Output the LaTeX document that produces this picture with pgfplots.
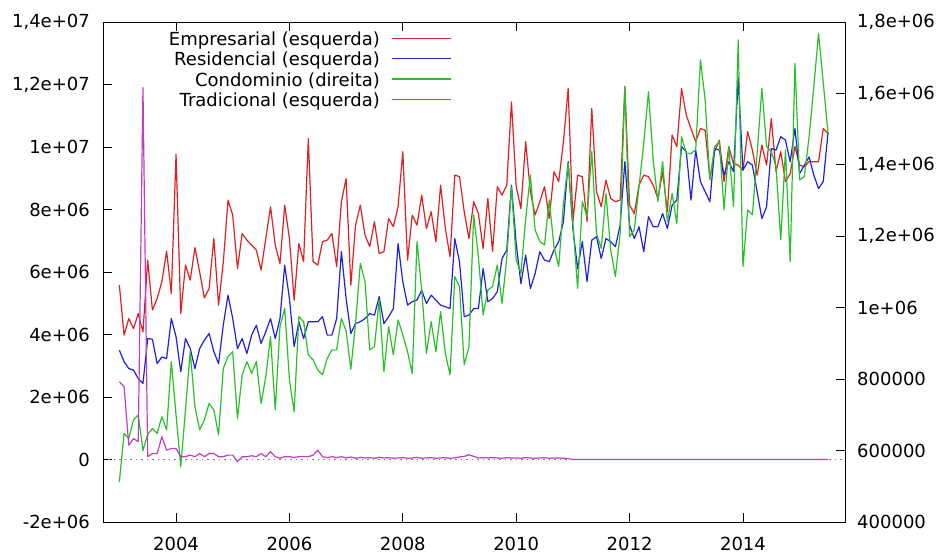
\documentclass[border=0pt]{standalone}
\usepackage{pgfplots}
\pgfplotsset{compat=1.18}
\usepackage{pgfplotstable}
\usepackage{fontspec}
\setmainfont{DejaVu Sans}
\definecolor{cEmp}{RGB}{222,32,32}
\definecolor{cRes}{RGB}{32,32,222}
\definecolor{cCon}{RGB}{40,192,40}
\definecolor{cTra}{RGB}{192,60,192}

% i = month index (0 = Jan 2003); emp,res,tra in millions (left axis); con in thousands (right axis)
\pgfplotstableread{
i emp res con tra
0 5.58 3.50 512 2.49
1 3.98 3.13 648 2.33
2 4.51 2.91 634 0.46
3 4.19 2.86 686 0.67
4 4.67 2.59 700 0.57
5 4.08 2.43 600 11.9
6 6.38 3.87 645 0.09
7 4.78 3.85 662 0.19
8 5.15 3.07 648 0.19
9 5.69 3.28 695 0.73
10 6.67 3.23 658 0.30
11 5.31 4.51 849 0.35
12 9.77 3.93 700 0.35
13 4.67 2.81 555 0.09
14 6.22 3.87 714 0.09
15 5.74 3.55 877 0.14
16 6.78 2.91 723 0.09
17 6.00 3.55 658 0.19
18 5.17 3.82 686 0.09
19 5.47 4.03 732 0.19
20 7.07 3.45 714 0.19
21 4.94 3.07 644 0.09
22 6.30 4.30 830 0.09
23 8.30 5.26 863 0.14
24 7.82 4.51 877 0.14
25 6.11 3.55 690 -0.07
26 7.23 3.87 812 0.09
27 7.02 3.39 849 0.09
28 6.86 3.98 816 0.12
29 6.70 4.30 849 0.09
30 6.06 3.71 732 0.19
31 7.07 4.09 807 0.09
32 8.09 4.51 919 0.25
33 6.86 3.87 714 0.09
34 6.27 4.51 947 0.04
35 8.14 6.22 998 0.09
36 7.07 5.15 798 0.09
37 5.10 3.61 709 0.06
38 6.91 4.41 975 0.09
39 6.33 3.87 961 0.10
40 10.27 4.41 868 0.09
41 6.33 4.41 854 0.14
42 6.22 4.41 826 0.30
43 6.97 4.57 812 0.09
44 7.02 3.98 858 0.06
45 7.23 3.98 882 0.09
46 6.17 4.51 882 0.06
47 8.25 6.65 970 0.09
48 8.99 5.15 935 0.05
49 5.58 4.03 828 0.08
50 7.50 4.35 956 0.04
51 8.14 4.41 1124 0.07
52 7.18 4.51 1073 0.05
53 6.81 4.67 882 0.06
54 7.61 4.62 891 0.04
55 6.59 5.21 1022 0.07
56 6.65 4.35 821 0.05
57 7.71 4.57 947 0.06
58 7.45 4.83 868 0.04
59 8.09 6.91 966 0.05
60 9.85 5.69 924 0.06
61 6.38 4.94 877 0.04
62 7.82 5.05 816 0.05
63 7.50 5.10 1185 0.07
64 8.46 5.42 1050 0.04
65 7.39 4.99 872 0.05
66 7.93 5.26 961 0.06
67 6.97 5.10 877 0.04
68 8.78 4.94 989 0.05
69 7.39 4.89 872 0.06
70 6.49 4.83 812 0.04
71 9.10 7.07 1087 0.05
72 9.05 6.33 1059 0.08
73 7.93 4.57 840 0.10
74 7.07 4.62 891 0.15
75 8.25 4.83 1260 0.10
76 7.87 4.83 1143 0.05
77 6.75 6.11 980 0.06
78 8.35 5.05 1050 0.05
79 6.65 5.15 1059 0.06
80 8.73 5.37 1120 0.05
81 8.46 6.43 1012 0.04
82 8.78 6.70 1138 0.06
83 11.44 8.78 1339 0.05
84 8.73 6.91 1134 0.05
85 8.03 5.63 1096 0.04
86 10.17 6.54 1246 0.06
87 8.57 5.47 1372 0.05
88 7.82 5.95 1218 0.04
89 8.25 6.65 1185 0.05
90 8.73 6.38 1176 0.06
91 7.71 6.33 1302 0.04
92 9.21 6.70 1171 0.05
93 8.89 6.97 1115 0.05
94 10.17 7.61 1292 0.04
95 11.87 9.53 1404 0.03
96 7.61 7.39 1236 0
97 9.10 6.11 1054 0
98 9.05 6.97 1297 0
99 7.61 5.69 1255 0
100 11.23 7.02 1437 0
101 8.57 7.13 1208 0
102 8.09 6.43 1166 0
103 8.94 7.07 1320 0
104 8.35 6.97 1162 0
105 8.25 6.81 1087 0
106 8.30 7.50 1208 0
107 11.93 9.53 1619 0
108 8.14 7.50 1199 0
109 7.87 7.07 1218 0
110 8.78 7.45 1339 0
111 9.10 6.65 1460 0
112 9.05 7.77 1605 0
113 8.78 7.45 1414 0
114 8.35 7.45 1297 0
115 9.21 7.87 1409 0
116 7.93 7.39 1241 0
117 10.38 8.14 1320 0
118 10.01 8.30 1236 0
119 11.87 10.01 1479 0
120 11.02 9.85 1432 0
121 10.59 8.30 1432 0
122 10.17 9.90 1442 0
123 10.59 8.89 1694 0
124 10.54 8.57 1582 0
125 8.99 8.25 1358 0
126 9.85 9.95 1451 0
127 10.22 9.90 1465 0
128 8.89 9.10 1274 0
129 10.01 9.53 1451 0
130 9.47 9.21 1283 0
131 9.42 12.20 1750 0
132 9.26 9.26 1115 0
133 10.49 9.53 1274 0
134 9.90 9.42 1260 0
135 9.10 8.57 1432 0
136 10.06 7.71 1614 0
137 9.42 8.09 1451 0
138 10.91 9.95 1437 0
139 9.21 9.90 1395 0
140 9.85 10.33 1190 0
141 8.89 10.22 1442 0
142 9.15 9.53 1129 0
143 10.01 10.59 1684 0
144 9.42 9.15 1358 0
145 9.37 9.42 1367 0
146 9.53 9.68 1479 0
147 9.53 9.10 1619 0
148 9.53 8.67 1768 0
149 10.59 8.90 1630 0
150 10.43 10.45 1490 0
}\data

\pgfplotsset{
  base/.style={
    at={(0,0)}, anchor=south west,
    scale only axis, width=742bp, height=500bp,
    xmin=-3.46, xmax=153.6,
    scaled x ticks=false, scaled y ticks=false,
    tick align=inside, major tick length=9bp,
    axis line style={black, line width=0.9bp},
    every tick/.style={black, line width=0.9bp},
  },
}
\newcommand{\lsample}[1]{\hspace{12bp}\textcolor{#1}{\rule[6.7bp]{59bp}{1.2bp}}}

\begin{document}
\begin{tikzpicture}[font=\fontsize{18bp}{20.3bp}\selectfont]
\useasboundingbox (-103bp,-32bp) rectangle (840bp,522bp);

\begin{axis}[base,
  ymin=-2, ymax=14,
  xtick={12,36,60,84,108,132},
  xticklabels={2004,2006,2008,2010,2012,2014},
  ytick={-2,0,2,4,6,8,10,12,14},
  yticklabels={-2e+06,0,2e+06,4e+06,6e+06,8e+06,1e+07,{1,2e+07},{1,4e+07}},
  xtick pos=both, xticklabel pos=lower,
  ytick pos=left, yticklabel pos=left,
  xticklabel style={inner sep=0pt, anchor=north, yshift=-15bp},
  yticklabel style={inner sep=0pt, anchor=east, xshift=-13bp},
]
\addplot[gray, line width=0.8bp, dash pattern=on 1.5bp off 4bp] coordinates {(-3.46,0) (153.6,0)};
\addplot[color=cEmp, line width=1.2bp, line join=round] table[x=i, y=emp] {\data};
\addplot[color=cRes, line width=1.2bp, line join=round] table[x=i, y=res] {\data};
\end{axis}

\begin{axis}[base,
  ymin=400, ymax=1800,
  hide x axis,
  ytick={400,600,800,1000,1200,1400,1600,1800},
  yticklabels={400000,600000,800000,1e+06,{1,2e+06},{1,4e+06},{1,6e+06},{1,8e+06}},
  ytick pos=right, yticklabel pos=right,
  yticklabel style={inner sep=0pt, anchor=west, xshift=12bp},
]
\addplot[color=cCon, line width=1.2bp, line join=round] table[x=i, y=con] {\data};
\end{axis}

\begin{axis}[base,
  ymin=-2, ymax=14,
  hide axis,
  legend cell align=right,
  legend plot pos=none,
  legend style={draw=none, fill=none, at={(0.4704,0.982)}, anchor=north east,
    inner sep=0pt, outer sep=0pt, row sep=0pt,
    font=\fontsize{18bp}{20.3bp}\selectfont,
    nodes={inner sep=1.15bp, text height=13.5bp, text depth=4.5bp}},
]
% legend carriers: the same series, not drawn here (drawn in the axes above)
\addplot[draw=none] table[x=i, y=emp] {\data};
\addlegendentry{Empresarial (esquerda)\lsample{cEmp}}
\addplot[draw=none] table[x=i, y=res] {\data};
\addlegendentry{Residencial (esquerda)\lsample{cRes}}
\addplot[draw=none] table[x=i, y=res] {\data};
\addlegendentry{Condominio (direita)\lsample{cCon}}
\addplot[color=cTra, line width=1.2bp, line join=round] table[x=i, y=tra] {\data};
\addlegendentry{Tradicional (esquerda)\lsample{cTra}}
\end{axis}
\end{tikzpicture}
\end{document}
